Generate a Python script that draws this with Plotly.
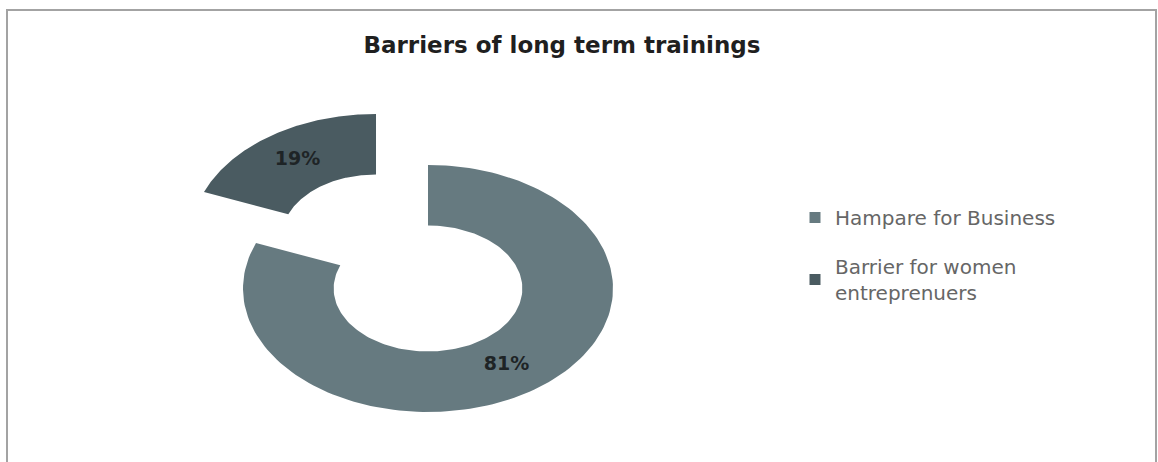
import numpy as np
import plotly.graph_objects as go

# Chart data
categories = ["Hampare for Business", "Barrier for women<br>entreprenuers"]
values = [81, 19]
colors = ["#667a80", "#4a5b61"]
pulls = [0.0, 0.5]

title_text = "Barriers of long term trainings"

W, H = 1158, 462
CX, CY = 428, 288.5          # donut centre in pixels
RX, RY = 185, 123.5          # pixels per data unit (x, y)
HOLE = 0.51

fig = go.Figure()

total = sum(values)
start = 0.0
for name, v, c, p in zip(categories, values, colors, pulls):
    frac = v / total
    t0, t1 = 2 * np.pi * start, 2 * np.pi * (start + frac)
    tm = 0.5 * (t0 + t1)
    dx, dy = p * np.sin(tm), p * np.cos(tm)
    t = np.linspace(t0, t1, 160)
    xs = np.concatenate([np.sin(t), HOLE * np.sin(t[::-1])]) + dx
    ys = np.concatenate([np.cos(t), HOLE * np.cos(t[::-1])]) + dy
    fig.add_trace(go.Scatter(
        x=np.append(xs, xs[0]), y=np.append(ys, ys[0]),
        mode="lines", fill="toself", fillcolor=c,
        line=dict(width=0, color=c), showlegend=False, hoverinfo="skip",
    ))
    rm = (1 + HOLE) / 2
    fig.add_trace(go.Scatter(
        x=[rm * np.sin(tm) + dx], y=[rm * np.cos(tm) + dy],
        mode="text", text=[f"{v}%"],
        textfont=dict(family="DejaVu Sans", size=19, color="#1e2426", weight="bold"),
        showlegend=False, hoverinfo="skip",
    ))
    start += frac

# legend entries
for name, c in zip(categories, colors):
    fig.add_trace(go.Scatter(
        x=[None], y=[None], mode="markers", name=name, legendgroup=name,
        marker=dict(symbol="square", size=11, color=c),
    ))

fig.update_layout(
    width=W, height=H,
    margin=dict(l=0, r=0, t=0, b=0),
    paper_bgcolor="white", plot_bgcolor="white",
    xaxis=dict(range=[-CX / RX, (W - CX) / RX], visible=False, fixedrange=True),
    yaxis=dict(range=[-(H - CY) / RY, CY / RY], visible=False, fixedrange=True),
    title=dict(text=title_text, x=562 / W, xanchor="center", y=1 - 45 / H, yanchor="middle",
               font=dict(family="DejaVu Sans", size=23, color="#1f1f1f", weight="bold")),
    legend=dict(x=795 / W, y=1 - 198 / H, xanchor="left", yanchor="top",
                font=dict(family="DejaVu Sans", size=20, color="#666666"),
                tracegroupgap=20, bgcolor="rgba(0,0,0,0)"),
    shapes=[dict(type="rect", xref="paper", yref="paper",
                 x0=7 / W, x1=1156 / W, y0=-0.05, y1=1 - 10 / H,
                 line=dict(color="#a3a3a3", width=2))],
)

fig.write_html("out.html")
